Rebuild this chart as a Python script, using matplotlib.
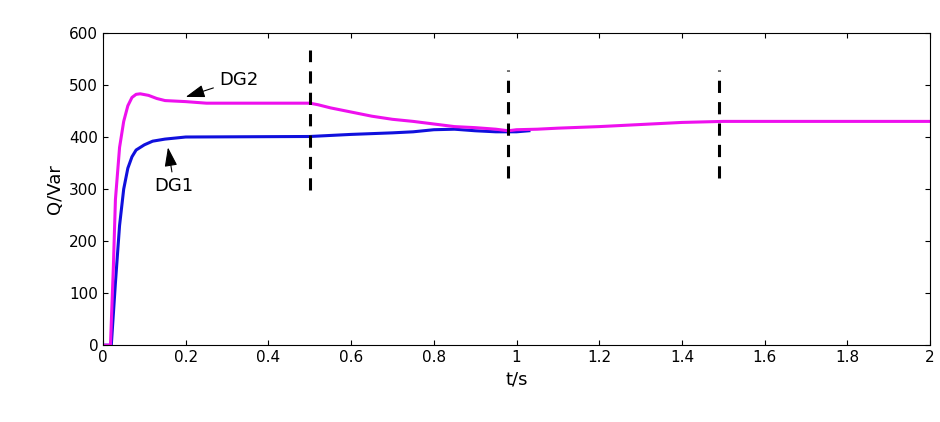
import matplotlib
matplotlib.use("Agg")
import matplotlib.pyplot as plt

t_dg2 = [0, 0.018, 0.025, 0.03, 0.04, 0.05, 0.06, 0.07, 0.08, 0.09, 0.11, 0.13, 0.15, 0.2, 0.25, 0.5, 0.52, 0.55, 0.6, 0.65, 0.7, 0.75, 0.8, 0.85, 0.9, 0.95, 0.98, 1.0, 1.05, 1.1, 1.2, 1.3, 1.4, 1.5, 1.7, 2.0]
q_dg2 = [0, 0, 150, 280, 380, 430, 460, 476, 482, 483, 480, 474, 470, 468, 465, 465, 462, 456, 448, 440, 434, 430, 425, 420, 418, 415, 412, 414, 415, 417, 420, 424, 428, 430, 430, 430]
t_dg1 = [0, 0.02, 0.03, 0.04, 0.05, 0.06, 0.07, 0.08, 0.1, 0.12, 0.15, 0.2, 0.5, 0.6, 0.7, 0.75, 0.8, 0.85, 0.9, 0.95, 1.0, 1.03]
q_dg1 = [0, 0, 120, 230, 300, 340, 362, 375, 385, 392, 396, 400, 401, 405, 408, 410, 414, 415, 412, 410, 410, 412]
dash_x = [0.5, 0.98, 1.49]
dash_lo = [298, 321, 321]
dash_hi = [567, 529, 529]

fig = plt.figure(figsize=(9.4, 4.22), dpi=100)
ax = fig.add_axes([0.1096, 0.182, 0.8798, 0.74])
ax.plot(t_dg1, q_dg1, color="#1010dd", lw=2.2)
ax.plot(t_dg2, q_dg2, color="#ee10ee", lw=2.2)
for x, lo, hi in zip(dash_x, dash_lo, dash_hi):
    ax.plot([x, x], [lo, hi], "k--", lw=2.2, dashes=(4, 3))
ax.set_xlim(0, 2)
ax.set_ylim(0, 600)
ax.set_xticks([0, 0.2, 0.4, 0.6, 0.8, 1, 1.2, 1.4, 1.6, 1.8, 2])
ax.set_xticklabels(["0", "0.2", "0.4", "0.6", "0.8", "1", "1.2", "1.4", "1.6", "1.8", "2"])
ax.set_yticks(range(0, 601, 100))
ax.tick_params(direction="in", labelsize=11, top=True, right=True)
ax.set_xlabel("t/s", fontsize=13)
ax.set_ylabel("Q/Var", fontsize=13)
ap = dict(arrowstyle="-|>,head_width=0.3,head_length=0.9", color="black", lw=0.8, shrinkA=2, shrinkB=0)
ax.annotate("DG2", xy=(0.2, 477), xytext=(0.28, 510), fontsize=13, arrowprops=ap, va="center")
ax.annotate("DG1", xy=(0.157, 380), xytext=(0.125, 305), fontsize=13, arrowprops=ap, va="center")
fig.savefig("out.png")
